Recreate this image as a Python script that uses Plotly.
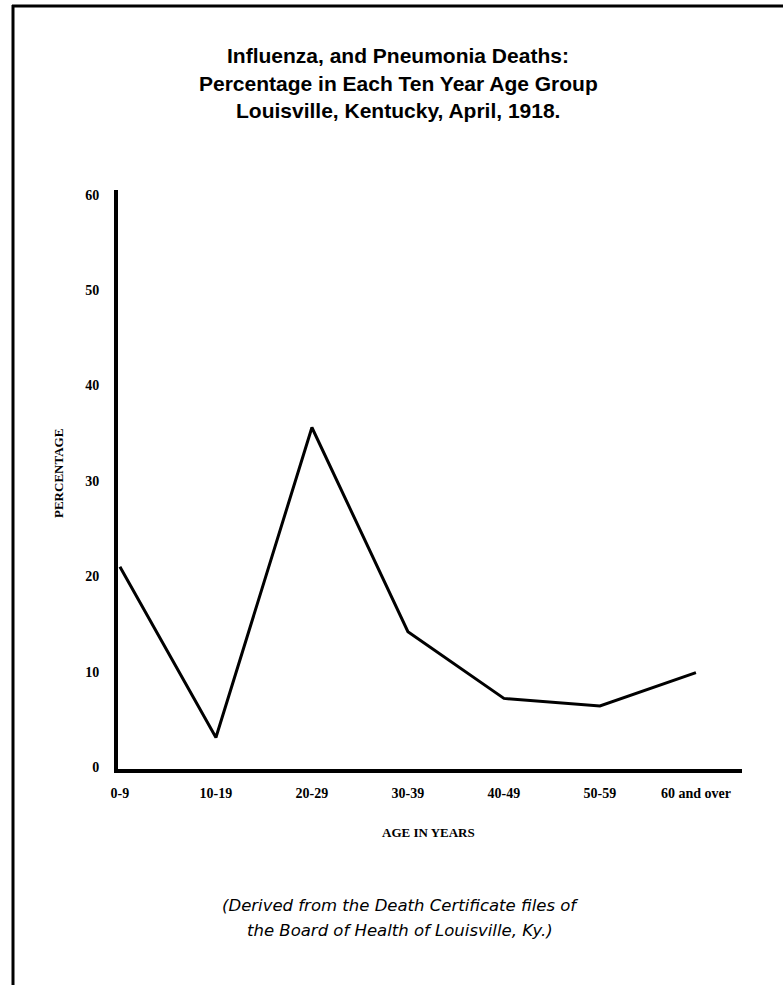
import plotly.graph_objects as go

age_groups = ["0-9", "10-19", "20-29", "30-39", "40-49", "50-59", "60 and over"]
percentages = [21.0, 3.1, 35.6, 14.2, 7.2, 6.4, 9.9]
y_ticks = [0, 10, 20, 30, 40, 50, 60]

title_lines = ["Influenza, and Pneumonia Deaths:",
               "Percentage in Each Ten Year Age Group",
               "Louisville, Kentucky, April, 1918."]
footer_lines = ["(Derived from the Death Certificate files of",
                "the Board of Health of Louisville, Ky.)"]

W, H = 783, 985
L, R, T, B = 118, 742, 190, 769

def px(xp):
    return (xp - L) / (R - L)

def py(yp):
    return (B - yp) / (B - T)

fig = go.Figure()
fig.add_trace(go.Scatter(x=age_groups, y=percentages, mode="lines",
                         line=dict(color="black", width=3), showlegend=False,
                         hoverinfo="skip"))

tickfont = dict(family="Liberation Serif", size=14, color="black", weight="bold")

fig.update_layout(
    width=W, height=H,
    margin=dict(l=L, r=W - R, t=T, b=H - B, pad=0),
    paper_bgcolor="white", plot_bgcolor="white",
    xaxis=dict(type="category", range=[-0.02, 6.48], showgrid=False, zeroline=False,
               showline=True, linecolor="black", linewidth=4,
               ticks="", tickfont=tickfont, ticklabelstandoff=8,
               fixedrange=True),
    yaxis=dict(range=[-0.2, 60.5], tickvals=y_ticks, showgrid=False, zeroline=False,
               showline=True, linecolor="black", linewidth=4,
               ticks="", tickfont=tickfont, ticklabelstandoff=12,
               fixedrange=True),
)

annotations = []
for i, line in enumerate(title_lines):
    annotations.append(dict(text=line, x=px(398), y=py(56 + 27 * i), xref="paper", yref="paper",
                            showarrow=False, xanchor="center", yanchor="middle",
                            font=dict(family="Liberation Sans", size=21, color="black",
                                      weight="bold")))
for i, line in enumerate(footer_lines):
    annotations.append(dict(text=line, x=px(400), y=py(905 + 25 * i), xref="paper", yref="paper",
                            showarrow=False, xanchor="center", yanchor="middle",
                            font=dict(family="DejaVu Sans", size=16.5, color="black",
                                      style="italic")))
annotations.append(dict(text="AGE IN YEARS", x=px(428), y=py(832), xref="paper", yref="paper",
                        showarrow=False, xanchor="center", yanchor="middle",
                        font=dict(family="Liberation Serif", size=13, color="black", weight="bold")))
annotations.append(dict(text="PERCENTAGE", x=px(58), y=py(474), xref="paper", yref="paper",
                        showarrow=False, xanchor="center", yanchor="middle", textangle=-90,
                        font=dict(family="Liberation Serif", size=13, color="black", weight="bold")))
fig.update_layout(annotations=annotations)

fig.add_shape(type="line", xref="paper", yref="paper", x0=px(12), x1=px(783), y0=py(6), y1=py(6),
              line=dict(color="black", width=3))
fig.add_shape(type="line", xref="paper", yref="paper", x0=px(13), x1=px(13), y0=py(5), y1=py(985),
              line=dict(color="black", width=3))

fig.write_html("out.html", config={"displayModeBar": False},
               post_script="document.body.style.margin='0';document.body.style.padding='0';")
